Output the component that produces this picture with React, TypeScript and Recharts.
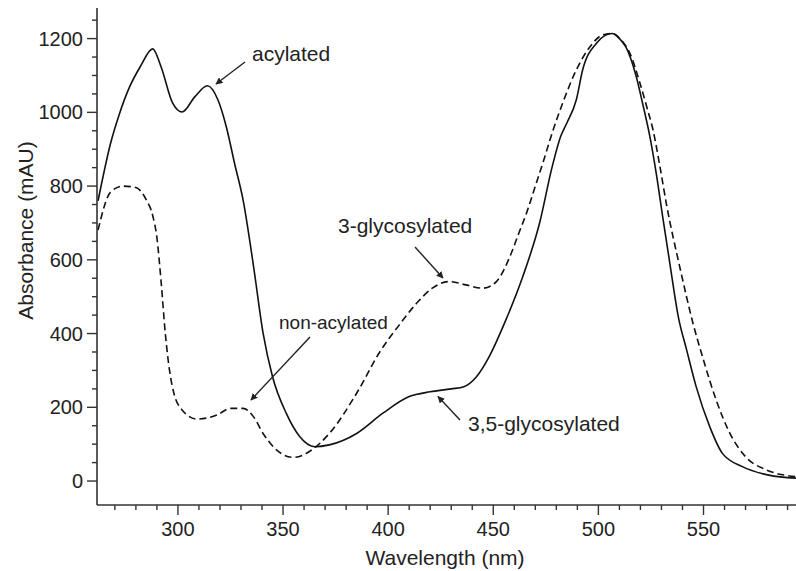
import React from 'react'
import { LineChart, Line, XAxis, YAxis } from 'recharts'

// solid trace: acylated / 3,5-glycosylated
const solidNm = [
  262, 268, 272, 277, 282, 288, 292, 297.5, 302, 308, 314, 319, 323, 327, 331, 336, 340.5, 345, 351.5,
  358, 365, 372, 385, 397.5, 410, 420, 430, 436, 442, 448, 456, 464, 472, 478, 482, 485, 489.5, 492.5,
  499, 503, 506.5, 510, 513, 518, 521, 524.5, 527.5, 530.5, 534, 538, 542, 546.5, 553, 559, 568.5, 581, 594,
]
const solidAbs = [
  760, 917, 993, 1069, 1123, 1172, 1123, 1025, 1001, 1042, 1072, 1034, 961, 860, 762, 581, 401, 283, 184,
  120, 93, 98, 129, 184, 229, 242, 250, 256, 283, 337, 437, 554, 699, 852, 934, 971, 1034, 1115,
  1187, 1208, 1214, 1200, 1178, 1097, 1025, 934, 835, 720, 590, 446, 355, 256, 147, 75, 39, 16, 8,
]

// dashed trace: non-acylated / 3-glycosylated
const dashedNm = [
  262, 268, 274, 280, 285, 288, 290, 292, 294, 296, 298, 302, 309, 318.5, 325, 331, 336, 340.5, 347, 355,
  362.5, 372, 385, 396, 405.5, 413.5, 421, 429, 437, 445, 451.5, 458, 462, 466, 470, 474, 478, 483, 489.5, 496,
  502, 506.5, 511, 515, 520, 523, 526, 529.3, 532.4, 538.7, 545, 550, 556, 562.5, 570, 580, 594,
]
const dashedAbs = [
  681, 784, 800, 796, 762, 720, 660, 540, 400, 300, 240, 193, 168, 179, 197, 197, 174, 129, 84, 64,
  80, 129, 238, 350, 425, 482, 523, 541, 532, 523, 541, 610, 670, 730, 800, 870, 944, 1025, 1115, 1178,
  1210, 1214, 1195, 1160, 1075, 1015, 952, 852, 750, 581, 428, 328, 220, 130, 66, 30, 12,
]

const xTicks = [270, 280, 290, 300, 310, 320, 330, 340, 350, 360, 370, 380, 390, 400, 410, 420, 430, 440, 450, 460, 470, 480, 490, 500, 510, 520, 530, 540, 550, 560, 570, 580, 590]
const yTicks = [0, 50, 100, 150, 200, 250, 300, 350, 400, 450, 500, 550, 600, 650, 700, 750, 800, 850, 900, 950, 1000, 1050, 1100, 1150, 1200, 1250]

const solid = solidNm.map((nm, i) => ({ nm, a: solidAbs[i] }))
const dashed = dashedNm.map((nm, i) => ({ nm, a: dashedAbs[i] }))

const FONT = '"Liberation Sans", Arial, Helvetica, sans-serif'
const INK = '#222'
const AXIS = '#333'

const XTick = (props: any) => {
  const { x, y, payload } = props
  const v = payload.value
  const major = v % 50 === 0
  return (
    <g>
      <line x1={x} x2={x} y1={y} y2={y + (major ? 10 : 5)} stroke={AXIS} strokeWidth={1.4} />
      {major && (
        <text x={x} y={y + 31} textAnchor="middle" fontSize={20} fontFamily={FONT} fill={INK}>
          {v}
        </text>
      )}
    </g>
  )
}

const YTick = (props: any) => {
  const { x, y, payload } = props
  const v = payload.value
  const major = v % 200 === 0
  return (
    <g>
      <line x1={x} x2={x - (major ? 10 : 5)} y1={y} y2={y} stroke={AXIS} strokeWidth={1.4} />
      {major && (
        <text x={x - 14} y={y + 7} textAnchor="end" fontSize={20} fontFamily={FONT} fill={INK}>
          {v}
        </text>
      )}
    </g>
  )
}

const Arrow = ({ x1, y1, x2, y2 }: { x1: number; y1: number; x2: number; y2: number }) => (
  <line x1={x1} y1={y1} x2={x2} y2={y2} stroke={INK} strokeWidth={1.4} markerEnd="url(#head)" />
)

export default function App() {
  return (
    <div style={{ position: 'absolute', left: 0, top: 0, width: 796, height: 571, background: '#fff' }}>
      <LineChart width={796} height={571} data={solid} margin={{ top: 8, right: 0, bottom: 0, left: 0 }}>
        <XAxis
          type="number"
          dataKey="nm"
          domain={[261.5, 594]}
          allowDataOverflow
          ticks={xTicks}
          interval={0}
          height={66}
          tickSize={0}
          tickMargin={0}
          tickLine={false}
          tick={<XTick />}
          axisLine={{ stroke: AXIS, strokeWidth: 1.6 }}
        />
        <YAxis
          type="number"
          domain={[-65, 1283]}
          allowDataOverflow
          ticks={yTicks}
          interval={0}
          width={97}
          tickSize={0}
          tickMargin={0}
          tickLine={false}
          tick={<YTick />}
          axisLine={{ stroke: AXIS, strokeWidth: 1.6 }}
        />
        <Line data={solid} dataKey="a" type="monotone" stroke="#111" strokeWidth={1.6} dot={false} isAnimationActive={false} />
        <Line data={dashed} dataKey="a" type="monotone" stroke="#111" strokeWidth={1.6} strokeDasharray="7 4" dot={false} isAnimationActive={false} />
      </LineChart>
      <svg width={796} height={571} style={{ position: 'absolute', left: 0, top: 0, pointerEvents: 'none' }}>
        <defs>
          <marker id="head" viewBox="0 0 10 10" refX="9" refY="5" markerWidth="7" markerHeight="7" markerUnits="userSpaceOnUse" orient="auto">
            <path d="M0,0 L10,5 L0,10 z" fill={INK} />
          </marker>
        </defs>
        <g fontFamily={FONT} fill={INK}>
          <text x={252} y={61} fontSize={21}>acylated</text>
          <text x={338} y={233} fontSize={21}>3-glycosylated</text>
          <text x={279} y={329} fontSize={19}>non-acylated</text>
          <text x={468} y={431} fontSize={21}>3,5-glycosylated</text>
          <text transform="translate(33,230.5) rotate(-90)" textAnchor="middle" fontSize={21}>Absorbance (mAU)</text>
          <text x={445} y={565} textAnchor="middle" fontSize={21}>Wavelength (nm)</text>
        </g>
        <Arrow x1={245} y1={62} x2={216} y2={84} />
        <Arrow x1={415} y1={247} x2={443} y2={278} />
        <Arrow x1={310} y1={337} x2={251} y2={400} />
        <Arrow x1={460} y1={420} x2={438} y2={396.5} />
      </svg>
    </div>
  )
}
